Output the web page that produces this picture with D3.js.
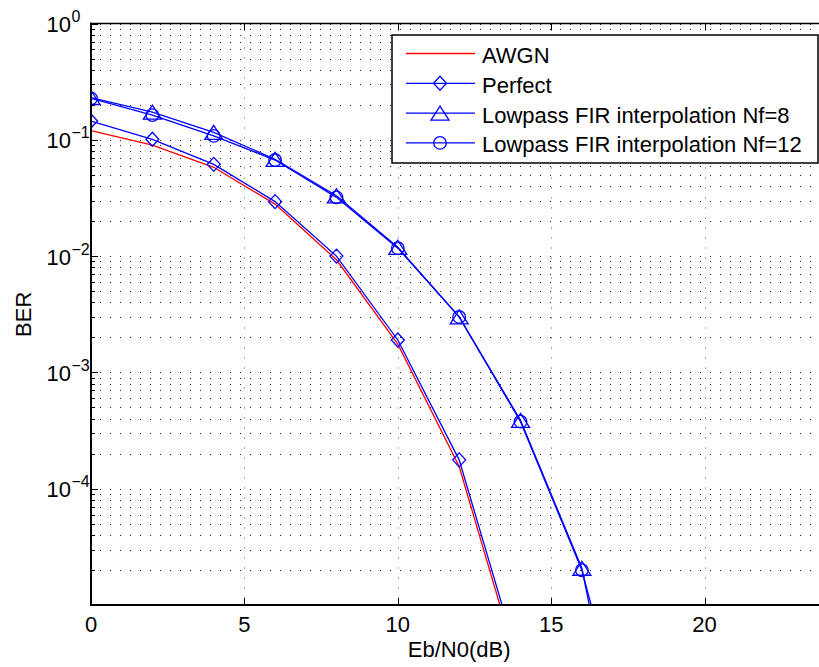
<!DOCTYPE html>
<html>
<head>
<meta charset="utf-8">
<title>BER vs Eb/N0</title>
<script src="https://d3js.org/d3.v7.min.js"></script>
<style>
  body { margin: 0; background: #fff; }
  svg { display: block; font-family: "Liberation Sans", Arial, sans-serif; }
</style>
</head>
<body>
<svg width="819" height="667"></svg>
<script>
  // values
  var snr = [0, 2, 4, 6, 8, 10, 12, 14, 16, 18];
  var awgn = [0.12, 0.090, 0.058, 0.028, 0.0093, 0.00175, 1.55e-4, 2.5e-6];
  var perfect = [0.145, 0.101, 0.0615, 0.0294, 0.0100, 0.0019, 1.77e-4, 2.9e-6];
  var nf8 = [0.231, 0.173, 0.116, 0.068, 0.033, 0.0119, 0.0030, 3.87e-4, 2.07e-5, 5e-8];
  var nf12 = [0.227, 0.163, 0.108, 0.067, 0.032, 0.0117, 0.0030, 3.77e-4, 1.99e-5, 2.1e-7];
  var xTicks = [0, 5, 10, 15, 20];
  var yTickExps = [0, -1, -2, -3, -4];
  var names = ["AWGN", "Perfect", "Lowpass FIR interpolation Nf=8", "Lowpass FIR interpolation Nf=12"];

  var series = [
    { name: names[0], values: awgn, color: "#ff0000", marker: "none" },
    { name: names[1], values: perfect, color: "#0000ff", marker: "diamond" },
    { name: names[2], values: nf8, color: "#0000ff", marker: "triangle" },
    { name: names[3], values: nf12, color: "#0000ff", marker: "circle" }
  ];

  var svg = d3.select("svg");
  var mLeft = 91, mTop = 23.5, mBottom = 605;
  var x = d3.scaleLinear().domain([0, 24]).range([mLeft, mLeft + 24 * 30.68]);
  var y = d3.scaleLog().domain([1e-5, 1]).range([mBottom, mTop]);
  var mRight = x(24);

  svg.append("clipPath").attr("id", "plotclip")
    .append("rect")
    .attr("x", mLeft).attr("y", mTop)
    .attr("width", mRight - mLeft).attr("height", mBottom - mTop);

  // grid: horizontal dotted at every decade and its 2..9 multiples
  var gridVals = [];
  for (var e = -5; e < 0; e++) {
    for (var m = 1; m <= 9; m++) gridVals.push(m * Math.pow(10, e));
  }
  var grid = svg.append("g");
  grid.selectAll(".hgrid")
    .data(gridVals.filter(function (d) { return d > 1.0001e-5; }).concat([1]))
    .enter().append("line")
    .attr("class", "hgrid")
    .attr("x1", mLeft).attr("x2", mRight)
    .attr("y1", function (d) { return Math.round(y(d)) + 0.5; })
    .attr("y2", function (d) { return Math.round(y(d)) + 0.5; })
    .attr("stroke", "#222")
    .attr("stroke-width", 1)
    .attr("stroke-dasharray", "1,9")
    .attr("stroke-dashoffset", -9);

  grid.selectAll(".vgrid")
    .data(xTicks.slice(1))
    .enter().append("line")
    .attr("class", "vgrid")
    .attr("x1", function (d) { return Math.round(x(d)) + 0.5; })
    .attr("x2", function (d) { return Math.round(x(d)) + 0.5; })
    .attr("y1", mTop).attr("y2", mBottom)
    .attr("stroke", "#555")
    .attr("stroke-width", 1)
    .attr("stroke-dasharray", "1,9")
    .attr("stroke-dashoffset", -4);

  // curves
  var plot = svg.append("g").attr("clip-path", "url(#plotclip)");
  var line = d3.line()
    .x(function (d) { return x(d[0]); })
    .y(function (d) { return y(d[1]); });

  function markerPath(type) {
    if (type === "diamond") return "M0,-7L6.5,0L0,7L-6.5,0Z";
    if (type === "triangle") return "M0,-7L9,7L-9,7Z";
    if (type === "circle") return "M6.3,0A6.3,6.3 0 1,1 -6.3,0A6.3,6.3 0 1,1 6.3,0Z";
    return null;
  }

  series.forEach(function (s) {
    var pts = s.values.map(function (v, i) { return [snr[i], v]; });
    plot.append("path")
      .datum(pts)
      .attr("fill", "none")
      .attr("stroke", s.color)
      .attr("stroke-width", 1.3)
      .attr("d", line);
    if (s.marker !== "none") {
      plot.selectAll(null)
        .data(pts)
        .enter().append("path")
        .attr("transform", function (d) { return "translate(" + x(d[0]) + "," + y(d[1]) + ")"; })
        .attr("d", markerPath(s.marker))
        .attr("fill", "none")
        .attr("stroke", s.color)
        .attr("stroke-width", 1.3);
    }
  });

  // axes box
  var axis = svg.append("g").attr("stroke", "#000").attr("fill", "none");
  axis.append("line").attr("x1", mLeft).attr("x2", mRight).attr("y1", mTop).attr("y2", mTop).attr("stroke-width", 1.5);
  axis.append("line").attr("x1", mLeft).attr("x2", mRight).attr("y1", mBottom).attr("y2", mBottom).attr("stroke-width", 2);
  axis.append("line").attr("x1", mLeft).attr("x2", mLeft).attr("y1", mTop - 0.75).attr("y2", mBottom + 1).attr("stroke-width", 2);

  // x ticks (inward, top and bottom)
  xTicks.forEach(function (t) {
    var px = Math.round(x(t)) + 0.5;
    axis.append("line").attr("x1", px).attr("x2", px).attr("y1", mBottom).attr("y2", mBottom - 7).attr("stroke-width", 1);
    axis.append("line").attr("x1", px).attr("x2", px).attr("y1", mTop).attr("y2", mTop + 7).attr("stroke-width", 1);
  });
  // y ticks: major and minor
  gridVals.concat([1]).forEach(function (v) {
    var major = Math.abs(Math.log10(v) - Math.round(Math.log10(v))) < 1e-9;
    var py = Math.round(y(v)) + 0.5;
    axis.append("line").attr("x1", mLeft).attr("x2", mLeft + (major ? 7 : 4))
      .attr("y1", py).attr("y2", py).attr("stroke-width", 1);
  });

  // tick labels
  var labels = svg.append("g").attr("fill", "#000");
  labels.selectAll(".xl")
    .data(xTicks)
    .enter().append("text")
    .attr("x", function (d) { return x(d); })
    .attr("y", 632)
    .attr("text-anchor", "middle")
    .attr("font-size", "22px")
    .text(function (d) { return d; });

  yTickExps.forEach(function (p) {
    var py = y(Math.pow(10, p));
    labels.append("text")
      .attr("x", 71).attr("y", py + 8.5)
      .attr("text-anchor", "end")
      .attr("font-size", "22px")
      .text("10");
    labels.append("text")
      .attr("x", 71.5).attr("y", py - 1.5)
      .attr("font-size", "16px")
      .text(p === 0 ? "0" : "\u2212" + Math.abs(p));
  });

  // axis titles
  labels.append("text")
    .attr("x", (mLeft + mRight) / 2).attr("y", 657)
    .attr("text-anchor", "middle")
    .attr("font-size", "22px")
    .text("Eb/N0(dB)");
  labels.append("text")
    .attr("transform", "translate(31," + ((mTop + mBottom) / 2) + ") rotate(-90)")
    .attr("text-anchor", "middle")
    .attr("font-size", "22px")
    .text("BER");

  // legend
  var lg = svg.append("g");
  lg.append("rect")
    .attr("x", 392).attr("y", 35)
    .attr("width", 426).attr("height", 128)
    .attr("fill", "#fff")
    .attr("stroke", "#000")
    .attr("stroke-width", 1.5);
  series.forEach(function (s, i) {
    var ly = 53.5 + i * 29.8;
    lg.append("line")
      .attr("x1", 406).attr("x2", 475)
      .attr("y1", ly).attr("y2", ly)
      .attr("stroke", s.color)
      .attr("stroke-width", 1.3);
    if (s.marker !== "none") {
      lg.append("path")
        .attr("transform", "translate(440," + ly + ")")
        .attr("d", markerPath(s.marker))
        .attr("fill", "none")
        .attr("stroke", s.color)
        .attr("stroke-width", 1.3);
    }
    lg.append("text")
      .attr("x", 482).attr("y", ly + 9.5)
      .attr("font-size", "22px")
      .attr("fill", "#000")
      .text(s.name);
  });
</script>
</body>
</html>
